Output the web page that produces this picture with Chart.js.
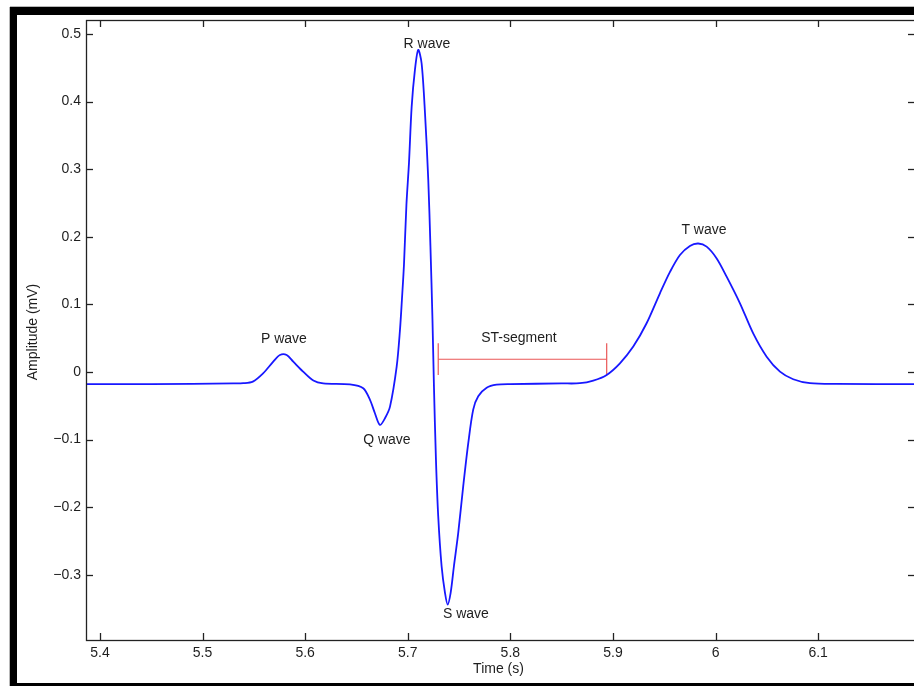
<!DOCTYPE html>
<html>
<head>
<meta charset="utf-8">
<title>ECG waveform</title>
<script src="https://cdn.jsdelivr.net/npm/chart.js@4/dist/chart.umd.min.js"></script>
<style>
  html, body { margin: 0; padding: 0; background: #fff; overflow: hidden; width: 914px; height: 686px; }
  #wrap { position: absolute; left: 0; top: 0; width: 916px; height: 686px; }
  .frame { position: absolute; background: #000; }
</style>
</head>
<body>
<div id="wrap"><canvas id="ecg" width="916" height="686"></canvas></div>
<div class="frame" style="left:10px; top:7px; width:904px; height:8px; box-shadow:0 -1px 0 #b8b8b8;"></div>
<div class="frame" style="left:10px; top:7px; width:7px; height:679px; box-shadow:-1px 0 0 #b8b8b8;"></div>
<div class="frame" style="left:10px; top:683px; width:904px; height:3px;"></div>
<script>
// One heartbeat: time (s) and amplitude (mV)
const timeS = [
  5.3864, 5.45, 5.53, 5.5397, 5.549, 5.559, 5.5689, 5.5754, 5.582, 5.5884,
  5.598, 5.608, 5.6176, 5.6437, 5.6566, 5.6632, 5.668, 5.6729, 5.6778, 5.6827,
  5.6892, 5.6924, 5.6943, 5.6963, 5.6987, 5.7012, 5.7038, 5.707, 5.7102, 5.7135,
  5.7168, 5.72, 5.7221, 5.7241, 5.7255, 5.7275, 5.7297, 5.733, 5.7363, 5.7389,
  5.7418, 5.745, 5.7492, 5.7541, 5.759, 5.7638, 5.7687, 5.7769, 5.7866, 5.80,
  5.85, 5.8678, 5.8808, 5.8939, 5.9068, 5.9198, 5.9328, 5.9458, 5.9556, 5.9653,
  5.975, 5.9831, 5.9913, 6.0011, 6.0108, 6.0238, 6.0367, 6.0498, 6.0628, 6.0757,
  6.092, 6.118, 6.1944
];
const amplitudeMv = [
  -0.018, -0.018, -0.017, -0.0167, -0.0143, -0.002, 0.0152, 0.025, 0.025, 0.0152,
  0.0005, -0.0128, -0.017, -0.0185, -0.0241, -0.0414, -0.0611, -0.0784, -0.0685, -0.0513,
  0.0078, 0.0617, 0.1065, 0.1583, 0.2471, 0.3093, 0.3921, 0.4469, 0.4764, 0.4567,
  0.3832, 0.2841, 0.1864, 0.0769, -0.0192, -0.1302, -0.2135, -0.2875, -0.3269, -0.3442,
  -0.3269, -0.2875, -0.2382, -0.1687, -0.1051, -0.0557, -0.036, -0.0234, -0.0189, -0.018,
  -0.017, -0.0167, -0.0128, -0.0044, 0.0128, 0.0375, 0.072, 0.1164, 0.148, 0.173,
  0.1864, 0.190, 0.1854, 0.168, 0.141, 0.1016, 0.057, 0.0226, 0.0004, -0.0108,
  -0.0167, -0.0178, -0.018
];

// ST-segment bracket: start/end time, level, and end-cap extent
const stTimes = [5.7297, 5.8939];
const stLevel = 0.0188;
const stCapRange = [-0.0044, 0.0425];

// Wave labels and where they sit (time, amplitude of label centre)
const waveLabels = ['P wave', 'Q wave', 'R wave', 'S wave', 'T wave', 'ST-segment'];
const labelTimes = [5.5793, 5.6797, 5.7187, 5.7567, 5.9887, 5.8084];
const labelAmps  = [0.0488, -0.1006, 0.4853, -0.358, 0.210, 0.0503];

// Axis ticks
const xTickValues = [5.4, 5.5, 5.6, 5.7, 5.8, 5.9, 6.0, 6.1];
const xTickLabels = ['5.4', '5.5', '5.6', '5.7', '5.8', '5.9', '6', '6.1'];
const yTickValues = [-0.3, -0.2, -0.1, 0, 0.1, 0.2, 0.3, 0.4, 0.5];
const yTickLabels = ['\u22120.3', '\u22120.2', '\u22120.1', '0', '0.1', '0.2', '0.3', '0.4', '0.5'];

const FONT_FAMILY = '"Liberation Sans", Arial, Helvetica, sans-serif';
const FONT_SIZE = 14;
const TEXT_COLOR = '#1e1e1e';
const AXIS_COLOR = '#222';

const ecgPoints = timeS.map((t, i) => ({ x: t, y: amplitudeMv[i] }));
const stBar = stTimes.map(t => ({ x: t, y: stLevel }));
const stCaps = stTimes.map(t => stCapRange.map(v => ({ x: t, y: v })));

// Box around the plot, inward ticks on all four sides, wave labels and axis titles
const annotatePlugin = {
  id: 'annotate',
  afterDraw(chart) {
    const { ctx, chartArea: a, scales } = chart;
    const xs = scales.x, ys = scales.y;
    ctx.save();
    ctx.strokeStyle = AXIS_COLOR;
    ctx.lineWidth = 1.3;
    ctx.strokeRect(a.left + 0.5, a.top + 0.5, a.right - a.left, a.bottom - a.top);
    const seg = (x1, y1, x2, y2) => { ctx.beginPath(); ctx.moveTo(x1, y1); ctx.lineTo(x2, y2); ctx.stroke(); };
    const TL = 7;
    xTickValues.forEach(v => {
      const px = Math.round(xs.getPixelForValue(v)) + 0.5;
      seg(px, a.bottom, px, a.bottom - TL);
      seg(px, a.top, px, a.top + TL);
    });
    yTickValues.forEach(v => {
      const py = Math.round(ys.getPixelForValue(v)) + 0.5;
      seg(a.left, py, a.left + TL, py);
      seg(a.right, py, a.right - TL, py);
    });

    ctx.fillStyle = TEXT_COLOR;
    ctx.font = FONT_SIZE + 'px ' + FONT_FAMILY;
    ctx.textAlign = 'center';
    ctx.textBaseline = 'middle';
    waveLabels.forEach((txt, i) => {
      ctx.fillText(txt, xs.getPixelForValue(labelTimes[i]), ys.getPixelForValue(labelAmps[i]));
    });

    // axis titles
    ctx.fillText('Time (s)', (a.left + a.right) / 2 - 2, a.bottom + 29);
    ctx.save();
    ctx.translate(a.left - 53, (a.top + a.bottom) / 2 + 2);
    ctx.rotate(-Math.PI / 2);
    ctx.fillText('Amplitude (mV)', 0, 0);
    ctx.restore();
    ctx.restore();
  }
};

new Chart(document.getElementById('ecg'), {
  type: 'line',
  data: {
    datasets: [
      {
        data: ecgPoints,
        borderColor: 'rgb(24,24,255)',
        borderWidth: 1.8,
        pointRadius: 0,
        tension: 0.3,
        fill: false
      },
      { data: stBar, borderColor: '#ea5656', borderWidth: 1.2, pointRadius: 0, tension: 0 },
      { data: stCaps[0], borderColor: '#ea5656', borderWidth: 1.2, pointRadius: 0, tension: 0 },
      { data: stCaps[1], borderColor: '#ea5656', borderWidth: 1.2, pointRadius: 0, tension: 0 }
    ]
  },
  options: {
    responsive: false,
    animation: false,
    events: [],
    layout: { padding: { top: 20, right: 1, left: 0, bottom: 0 } },
    plugins: { legend: { display: false }, tooltip: { enabled: false } },
    scales: {
      x: {
        type: 'linear',
        min: 5.3864,
        max: 6.1944,
        border: { display: false },
        grid: { display: false, drawTicks: false },
        afterBuildTicks: s => { s.ticks = xTickValues.map(v => ({ value: v })); },
        afterFit: s => { s.height = 46; },
        ticks: {
          padding: 5,
          maxRotation: 0,
          color: TEXT_COLOR,
          font: { family: FONT_FAMILY, size: FONT_SIZE },
          callback: (v, i) => xTickLabels[i]
        }
      },
      y: {
        type: 'linear',
        min: -0.3966,
        max: 0.5207,
        border: { display: false },
        grid: { display: false, drawTicks: false },
        afterBuildTicks: s => { s.ticks = yTickValues.map(v => ({ value: v })); },
        afterFit: s => { s.width = 86; },
        ticks: {
          padding: 5,
          color: TEXT_COLOR,
          font: { family: FONT_FAMILY, size: FONT_SIZE },
          callback: (v, i) => yTickLabels[i]
        }
      }
    }
  },
  plugins: [annotatePlugin]
});
</script>
</body>
</html>
